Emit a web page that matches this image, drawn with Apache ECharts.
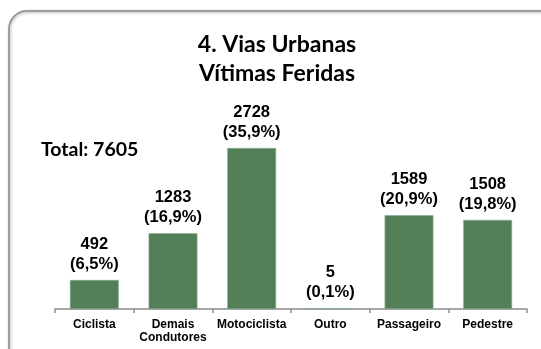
<!DOCTYPE html>
<html>
<head>
<meta charset="utf-8">
<script src="https://cdn.jsdelivr.net/npm/echarts@6/dist/echarts.min.js"></script>
<style>
  html, body { margin: 0; padding: 0; background: #fff; }
  #chart { width: 541px; height: 349px; }
</style>
</head>
<body>
<div id="chart"></div>
<script>
// Injured victims on urban roads, by victim type
const categories = ['Ciclista', 'Demais\nCondutores', 'Motociclista', 'Outro', 'Passageiro', 'Pedestre'];
const victims = [492, 1283, 2728, 5, 1589, 1508];
const shares = ['6,5%', '16,9%', '35,9%', '0,1%', '20,9%', '19,8%'];
const totalVictims = 7605;

const chart = echarts.init(document.getElementById('chart'), null, { renderer: 'canvas' });

chart.setOption({
  animation: false,
  backgroundColor: '#ffffff',
  graphic: [
    {
      type: 'rect',
      z: -10,
      shape: { x: 9, y: 11, width: 580, height: 380, r: 18 },
      style: {
        fill: '#ffffff',
        stroke: '#8a8a8a',
        lineWidth: 1.5,
        shadowBlur: 3,
        shadowOffsetX: 1,
        shadowOffsetY: 1,
        shadowColor: 'rgba(0,0,0,0.35)'
      }
    },
    {
      type: 'text',
      left: 41,
      top: 140,
      style: {
        text: 'Total: ' + totalVictims,
        font: 'bold 19.5px Lato',
        fill: '#000'
      }
    }
  ],
  title: {
    text: '4. Vias Urbanas\nVítimas Feridas',
    left: 272,
    textAlign: 'center',
    top: 25,
    textStyle: {
      fontFamily: 'Lato',
      fontWeight: 'bold',
      fontSize: 23,
      lineHeight: 29,
      color: '#000'
    }
  },
  grid: { left: 55, right: 14, top: 132, bottom: 40, containLabel: false },
  xAxis: {
    type: 'category',
    data: categories,
    axisLine: { lineStyle: { color: '#8c8c8c', width: 1.5 } },
    axisTick: { show: true, length: 4, lineStyle: { color: '#8c8c8c', width: 1.5 } },
    axisLabel: {
      interval: 0,
      margin: 9,
      fontFamily: 'Liberation Sans',
      fontWeight: 'bold',
      fontSize: 12,
      lineHeight: 13,
      color: '#000'
    }
  },
  yAxis: {
    type: 'value',
    min: 0,
    max: 3000,
    show: false,
    splitLine: { show: false }
  },
  series: [{
    type: 'bar',
    data: victims,
    barCategoryGap: '38%',
    itemStyle: { color: '#527f57', borderColor: '#86a889', borderWidth: 0.6 },
    label: {
      show: true,
      position: 'top',
      distance: 6,
      fontFamily: 'Liberation Sans',
      fontWeight: 'bold',
      fontSize: 16.5,
      lineHeight: 20,
      color: '#000',
      formatter: p => p.value + '\n(' + shares[p.dataIndex] + ')'
    }
  }]
});
</script>
</body>
</html>
